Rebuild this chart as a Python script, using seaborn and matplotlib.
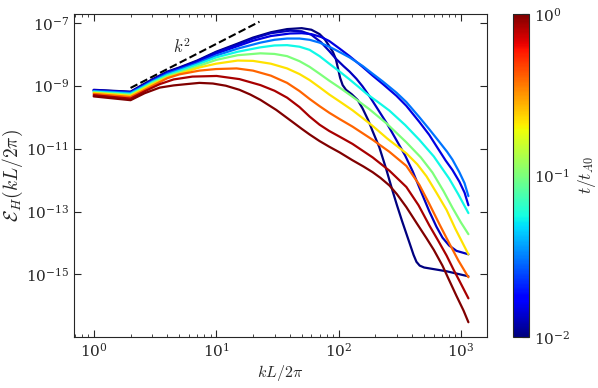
import numpy as np
import pandas as pd
import seaborn as sns
import matplotlib
matplotlib.use("Agg")
import matplotlib.pyplot as plt
from matplotlib.colors import LogNorm
from matplotlib.cm import ScalarMappable
from matplotlib.ticker import NullLocator

# times (in units of t_A0) of each spectrum
times = [0.01, 0.013, 0.015, 0.03, 0.055, 0.1, 0.22, 0.4, 0.85, 1.0]

# spectra: k and log10(E_H)
k0 = [1, 2, 2.5, 3, 4, 5, 7, 10, 15, 20, 28, 38, 50, 60, 70, 77, 84, 90, 95, 99, 103, 108, 115, 128, 143, 157, 175, 190, 215, 245, 275, 300, 330, 380, 410, 433, 460, 500, 763, 1150]
E0 = [-9.13, -9.19, -8.97, -8.80, -8.55, -8.42, -8.20, -7.92, -7.66, -7.47, -7.30, -7.20, -7.17, -7.22, -7.36, -7.52, -7.74, -7.93, -8.15, -8.45, -8.75, -8.98, -9.13, -9.27, -9.45, -9.72, -10.10, -10.45, -10.95, -11.65, -12.32, -12.80, -13.30, -14.00, -14.38, -14.60, -14.72, -14.78, -14.90, -15.06]

k1 = [1, 2, 2.5, 3, 4, 5, 7, 10, 15, 20, 28, 40, 50, 60, 72, 84, 95, 110, 123, 140, 157, 180, 204, 250, 297, 350, 403, 470, 552, 630, 706, 800, 918, 1150]
E1 = [-9.14, -9.20, -9.00, -8.82, -8.57, -8.44, -8.22, -7.94, -7.69, -7.50, -7.33, -7.25, -7.27, -7.38, -7.62, -7.90, -8.14, -8.38, -8.55, -8.78, -9.02, -9.35, -9.68, -10.22, -10.73, -11.22, -11.72, -12.35, -13.00, -13.48, -13.83, -14.08, -14.25, -14.36]

k2 = [1, 2, 2.5, 3, 4, 5, 7, 10, 15, 20, 28, 40, 50, 60, 72, 84, 102, 123, 157, 190, 229, 297, 358, 457, 550, 630, 750, 852, 970, 1070, 1150]
E2 = [-9.15, -9.21, -9.01, -8.84, -8.59, -8.46, -8.25, -7.98, -7.74, -7.57, -7.42, -7.34, -7.33, -7.36, -7.45, -7.58, -7.82, -8.06, -8.40, -8.68, -8.94, -9.32, -9.64, -10.15, -10.56, -10.92, -11.38, -11.68, -12.05, -12.40, -12.80]

k3 = [1, 2, 2.5, 3, 4, 5, 7, 10, 15, 23, 30, 38, 48, 58, 70, 84, 102, 123, 157, 190, 229, 297, 358, 457, 550, 670, 770, 852, 970, 1070, 1150]
E3 = [-9.17, -9.23, -9.03, -8.86, -8.62, -8.49, -8.29, -8.04, -7.82, -7.63, -7.54, -7.50, -7.50, -7.54, -7.63, -7.76, -7.93, -8.10, -8.37, -8.62, -8.86, -9.22, -9.52, -10.00, -10.38, -10.80, -11.10, -11.35, -11.75, -12.10, -12.51]

k4 = [1, 2, 2.5, 3, 4, 5, 7, 10, 15, 23, 30, 38, 48, 58, 70, 84, 102, 123, 145, 170, 210, 260, 350, 457, 600, 800, 950, 1150]
E4 = [-9.19, -9.26, -9.06, -8.89, -8.66, -8.53, -8.33, -8.10, -7.92, -7.78, -7.72, -7.71, -7.76, -7.86, -8.06, -8.30, -8.55, -8.80, -9.03, -9.26, -9.52, -9.79, -10.25, -10.72, -11.25, -11.95, -12.45, -13.05]

k5 = [1, 2, 2.5, 3, 4, 5, 7, 10, 15, 23, 30, 38, 48, 58, 70, 84, 102, 130, 179, 250, 358, 470, 585, 720, 852, 1000, 1150]
E5 = [-9.21, -9.29, -9.09, -8.92, -8.70, -8.58, -8.39, -8.18, -8.03, -7.97, -7.99, -8.06, -8.22, -8.40, -8.62, -8.84, -9.06, -9.35, -9.75, -10.22, -10.80, -11.28, -11.76, -12.35, -12.88, -13.35, -13.72]

k6 = [1, 2, 2.5, 3, 4, 5, 7.3, 10, 15, 20, 28, 38, 48, 58, 70, 84, 102, 130, 160, 190, 250, 358, 440, 523, 630, 763, 900, 1150]
E6 = [-9.23, -9.32, -9.12, -8.96, -8.74, -8.62, -8.42, -8.30, -8.20, -8.21, -8.30, -8.45, -8.63, -8.82, -9.05, -9.28, -9.50, -9.78, -10.05, -10.28, -10.68, -11.15, -11.50, -11.88, -12.40, -12.95, -13.55, -14.36]

k7 = [1, 2, 2.5, 3, 4, 5, 7.3, 10, 14.7, 20, 28, 38, 48, 58, 70, 84, 102, 130, 190, 260, 358, 457, 550, 670, 800, 950, 1150]
E7 = [-9.26, -9.36, -9.17, -9.01, -8.76, -8.64, -8.52, -8.47, -8.45, -8.52, -8.68, -8.91, -9.17, -9.42, -9.65, -9.86, -10.06, -10.30, -10.72, -11.10, -11.55, -12.15, -12.75, -13.42, -14.00, -14.55, -15.09]

k8 = [1, 2, 2.6, 3.46, 4.5, 6.4, 10.1, 15.5, 23, 30, 38, 48, 58, 70, 84, 102, 130, 190, 260, 358, 450, 553, 650, 763, 870, 970, 1150]
E8 = [-9.30, -9.41, -9.18, -8.95, -8.80, -8.71, -8.69, -8.79, -8.98, -9.16, -9.38, -9.68, -9.98, -10.24, -10.44, -10.62, -10.85, -11.28, -11.70, -12.22, -12.80, -13.45, -13.92, -14.40, -14.85, -15.20, -15.76]

k9 = [1, 2, 2.6, 3.46, 4.5, 5.7, 7.3, 9.4, 12, 15.5, 19, 23, 31, 42, 50, 58, 70, 84, 102, 130, 160, 190, 220, 260, 300, 358, 433, 523, 600, 706, 800, 918, 1050, 1150]
E9 = [-9.34, -9.46, -9.24, -9.06, -8.99, -8.95, -8.91, -8.93, -9.00, -9.13, -9.28, -9.45, -9.77, -10.15, -10.37, -10.55, -10.76, -10.94, -11.12, -11.37, -11.57, -11.75, -11.93, -12.17, -12.45, -12.86, -13.36, -13.85, -14.22, -14.72, -15.18, -15.68, -16.15, -16.52]

all_k = [k0, k1, k2, k3, k4, k5, k6, k7, k8, k9]
all_E = [E0, E1, E2, E3, E4, E5, E6, E7, E8, E9]

# k^2 guide line
k_ref = [2, 22.6]
E_ref_start = 8.5e-10

frames = []
for t, kk, ee in zip(times, all_k, all_E):
    frames.append(pd.DataFrame({'k': kk, 'E': 10.0 ** np.array(ee), 't': t}))
df = pd.concat(frames, ignore_index=True)

sns.set_style('ticks')
plt.rcParams['font.family'] = ['DejaVu Serif']
plt.rcParams['mathtext.fontset'] = 'cm'
plt.rcParams['axes.unicode_minus'] = False
plt.rcParams['xtick.direction'] = 'in'
plt.rcParams['ytick.direction'] = 'in'

fig = plt.figure(figsize=(5.98, 3.88), dpi=100)
ax = fig.add_axes([0.1237, 0.1314, 0.6906, 0.8325])

jet = plt.get_cmap('jet')
norm = LogNorm(vmin=1e-2, vmax=1.0)
sns.lineplot(data=df, x='k', y='E', hue='t', palette=jet, hue_norm=norm,
             units='t', estimator=None, sort=False, legend=False,
             linewidth=1.6, ax=ax)

kr = np.array(k_ref)
ax.plot(kr, E_ref_start * (kr / kr[0]) ** 2, 'k--', lw=1.5)
ax.text(5.3, 10 ** -7.8, '$k^2$', fontsize=12, ha='center', va='center')

ax.set_xscale('log')
ax.set_yscale('log')
ax.set_xlim(0.69, 1630)
ax.set_ylim(10 ** -16.99, 10 ** -6.72)
ax.set_yticks([1e-15, 1e-13, 1e-11, 1e-9, 1e-7])
ax.yaxis.set_minor_locator(NullLocator())
ax.tick_params(which='both', top=True, right=True, labelsize=11)
ax.tick_params(which='major', length=5, width=0.8)
ax.tick_params(which='minor', length=2.5, width=0.6)
ax.set_xlabel('$kL/2\\pi$', fontsize=11.5, labelpad=2)
ax.set_ylabel('$\\mathcal{E}_H(kL/2\\pi)$', fontsize=14, labelpad=1)

cax = fig.add_axes([0.858, 0.1314, 0.027, 0.8325])
sm = ScalarMappable(norm=norm, cmap=jet)
cb = fig.colorbar(sm, cax=cax)
cb.ax.tick_params(which='both', direction='in', labelsize=11)
cb.ax.tick_params(which='major', length=5)
cb.ax.tick_params(which='minor', length=2.5)
cb.set_label('$t/t_{A0}$', fontsize=12.5)

fig.savefig('out.png', dpi=100)
